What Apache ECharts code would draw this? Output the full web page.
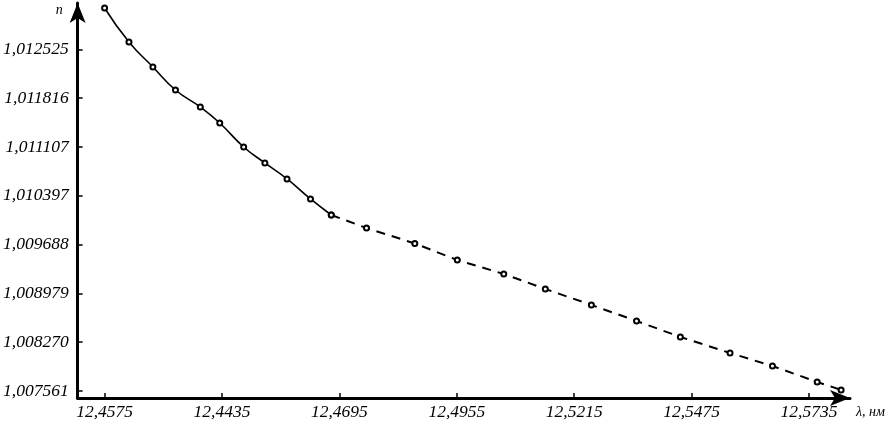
<!DOCTYPE html>
<html>
<head>
<meta charset="utf-8">
<script src="https://cdn.jsdelivr.net/npm/echarts@6/dist/echarts.min.js"></script>
<style>
  html, body { margin: 0; padding: 0; background: #fff; }
  #chart { width: 895px; height: 428px; }
</style>
</head>
<body>
<div id="chart"></div>
<script>
// tick positions and the labels printed under / beside them
const xTicks = [12.4175, 12.4435, 12.4695, 12.4955, 12.5215, 12.5475, 12.5735];
const xTickLabels = ["12,4575", "12,4435", "12,4695", "12,4955", "12,5215", "12,5475", "12,5735"];
const yTicks = [1.007561, 1.008270, 1.008979, 1.009688, 1.010397, 1.011107, 1.011816, 1.012525];
const yTickLabels = ["1,007561", "1,008270", "1,008979", "1,009688", "1,010397", "1,011107", "1,011816", "1,012525"];

// measured part (solid curve)
const lambdaSolid = [12.4175, 12.4229, 12.4282, 12.4332, 12.4387, 12.4430, 12.4483, 12.4530, 12.4579, 12.4631, 12.4677];
const nSolid = [1.013126, 1.012632, 1.012269, 1.011934, 1.011687, 1.011455, 1.011106, 1.010874, 1.010641, 1.010351, 1.010118];

// extrapolated part (dashed)
const lambdaDashed = [12.4677, 12.4755, 12.4862, 12.4956, 12.5059, 12.5151, 12.5253, 12.5353, 12.5450, 12.5560, 12.5654, 12.5753, 12.5806];
const nDashed = [1.010118, 1.009929, 1.009704, 1.009464, 1.009261, 1.009043, 1.008811, 1.008578, 1.008346, 1.008113, 1.007924, 1.007692, 1.007576];

function pairs(xs, ys) {
  return xs.map((x, i) => [x, ys[i]]);
}

function labelFor(ticks, labels, v) {
  let best = 0;
  for (let i = 1; i < ticks.length; i++) {
    if (Math.abs(ticks[i] - v) < Math.abs(ticks[best] - v)) best = i;
  }
  return labels[best];
}

const font = { fontFamily: "Liberation Serif", fontStyle: "italic", fontSize: 17.5, color: "#000" };

const chart = echarts.init(document.getElementById("chart"));
chart.setOption({
  animation: false,
  grid: { left: 77, right: 45, top: 3, bottom: 30, containLabel: false },
  xAxis: {
    type: "value",
    min: 12.41153,
    max: 12.58257,
    name: "λ, нм",
    nameLocation: "end",
    nameGap: 6,
    nameTextStyle: { fontFamily: "Liberation Serif", fontStyle: "italic", fontSize: 14, color: "#000", align: "left", verticalAlign: "top", padding: [7, 0, 0, 0] },
    axisLine: { show: true, symbol: ["none", "arrow"], symbolSize: [12, 20], lineStyle: { color: "#000", width: 3 } },
    axisTick: { show: true, inside: true, length: 5, customValues: xTicks, lineStyle: { color: "#000", width: 1.5 } },
    axisLabel: {
      customValues: xTicks,
      margin: 5,
      ...font,
      formatter: v => labelFor(xTicks, xTickLabels, v)
    },
    splitLine: { show: false }
  },
  yAxis: {
    type: "value",
    min: 1.007459,
    max: 1.013198,
    name: "n",
    nameLocation: "end",
    nameGap: 0,
    nameTextStyle: { fontFamily: "Liberation Serif", fontStyle: "italic", fontSize: 14, color: "#000", align: "right", verticalAlign: "top", padding: [0, 15, 0, 0] },
    axisLine: { show: true, symbol: ["none", "arrow"], symbolSize: [12, 20], lineStyle: { color: "#000", width: 3 } },
    axisTick: { show: true, inside: true, length: 5, customValues: yTicks, lineStyle: { color: "#000", width: 1.5 } },
    axisLabel: {
      customValues: yTicks,
      margin: 9,
      ...font,
      formatter: v => labelFor(yTicks, yTickLabels, v)
    },
    splitLine: { show: false }
  },
  series: [
    {
      type: "line",
      data: pairs(lambdaSolid, nSolid),
      smooth: 0.5,
      symbol: "emptyCircle",
      symbolSize: 5,
      lineStyle: { color: "#000", width: 1.6 },
      itemStyle: { color: "#000", borderWidth: 1.2 }
    },
    {
      type: "line",
      data: pairs(lambdaDashed, nDashed),
      symbol: "emptyCircle",
      symbolSize: 5,
      lineStyle: { color: "#000", width: 2, type: [9, 7] },
      itemStyle: { color: "#000", borderWidth: 1.2 }
    }
  ]
});
</script>
</body>
</html>
